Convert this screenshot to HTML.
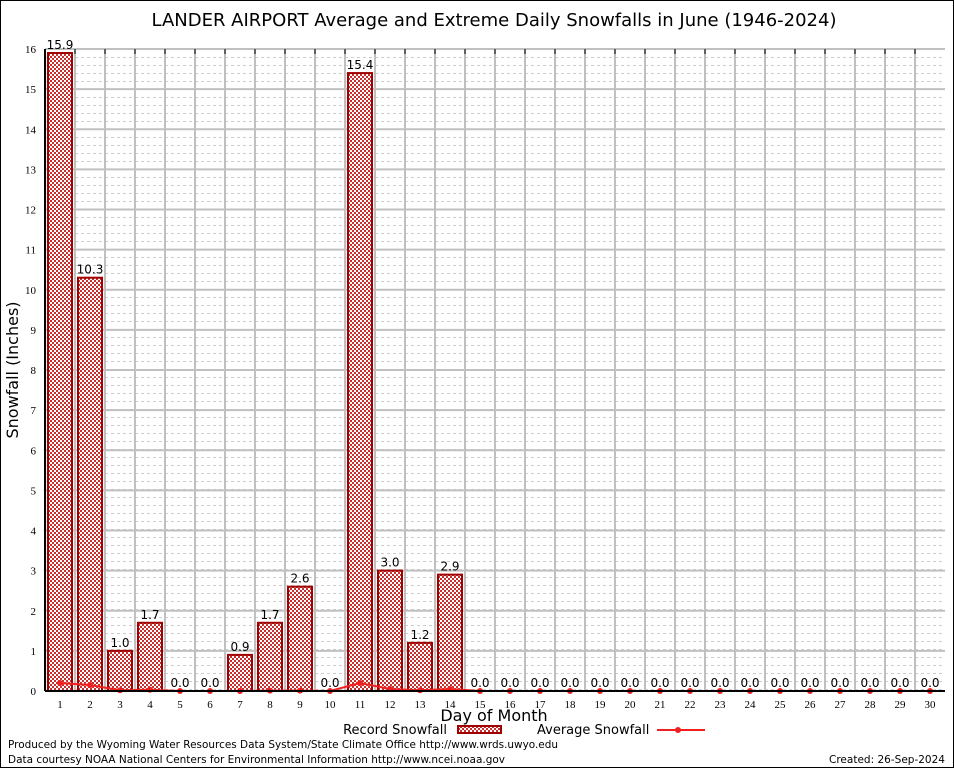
<!DOCTYPE html>
<html><head><meta charset="utf-8"><style>
body{margin:0;background:#fff;}
svg{display:block;font-family:"DejaVu Sans","Liberation Sans",sans-serif;}
</style></head><body>
<svg id="chart" width="954" height="768" viewBox="0 0 954 768">
<defs>
<pattern id="chk" width="4" height="4" patternUnits="userSpaceOnUse">
<rect width="4" height="4" fill="#c83030"/>
<rect x="0" y="0" width="2" height="2" fill="#fff"/>
<rect x="2" y="2" width="2" height="2" fill="#fff"/>
</pattern>
<pattern id="dots" width="6" height="8" patternUnits="userSpaceOnUse" x="45" y="49">
<rect x="0" y="0" width="3" height="1" fill="#ccc"/>
</pattern>
</defs>
<rect x="0.5" y="0.5" width="953" height="767" fill="#fff" stroke="#000"/>
<text x="494" y="26" font-size="18" text-anchor="middle">LANDER AIRPORT Average and Extreme Daily Snowfalls in June (1946-2024)</text>
<rect x="45" y="49" width="900" height="642" fill="url(#dots)"/>
<g id="grid"></g>
<g id="bars"></g>
<g id="avg"></g>
<g id="axes"></g>
<text transform="translate(18,370) rotate(-90)" font-size="16" text-anchor="middle">Snowfall (Inches)</text>
<text x="494" y="721" font-size="16" text-anchor="middle">Day of Month</text>
<g>
<text x="447" y="734" font-size="13" text-anchor="end">Record Snowfall</text>
<rect x="458" y="726" width="43" height="7" fill="url(#chk)" stroke="#a00000" stroke-width="2"/>
<text x="537" y="734" font-size="13">Average Snowfall</text>
<line x1="657" y1="730" x2="705" y2="730" stroke="#f02020" stroke-width="2"/>
<circle cx="678" cy="730" r="3" fill="#f02020"/>
</g>
<text x="8" y="748" font-size="11" textLength="550" lengthAdjust="spacingAndGlyphs">Produced by the Wyoming Water Resources Data System/State Climate Office http://www.wrds.uwyo.edu</text>
<text x="8" y="763" font-size="11" textLength="497" lengthAdjust="spacingAndGlyphs">Data courtesy NOAA National Centers for Environmental Information http://www.ncei.noaa.gov</text>
<text x="945" y="763" font-size="11" text-anchor="end" textLength="116" lengthAdjust="spacingAndGlyphs">Created: 26-Sep-2024</text>
</svg>
<script>
const days=[1,2,3,4,5,6,7,8,9,10,11,12,13,14,15,16,17,18,19,20,21,22,23,24,25,26,27,28,29,30];
const records=[15.9,10.3,1.0,1.7,0,0,0.9,1.7,2.6,0,15.4,3.0,1.2,2.9,0,0,0,0,0,0,0,0,0,0,0,0,0,0,0,0];
const averages=[0.2,0.15,0.02,0.03,0,0,0,0.01,0.01,0,0.2,0.05,0.02,0.05,0,0,0,0,0,0,0,0,0,0,0,0,0,0,0,0];
const yTicks=[0,1,2,3,4,5,6,7,8,9,10,11,12,13,14,15,16];
const X0=45,X1=945,Y0=691,Y1=49,YMAX=16;
const NS='http://www.w3.org/2000/svg';
const bw=(X1-X0)/days.length;
const xs=d=>X0+(d-0.5)*bw;
const ys=v=>Y0-(v/YMAX)*(Y0-Y1);
function mk(tag,attrs,parent){const e=document.createElementNS(NS,tag);for(const k in attrs)e.setAttribute(k,attrs[k]);parent.appendChild(e);return e;}
const grid=document.getElementById('grid'),bars=document.getElementById('bars'),avg=document.getElementById('avg'),axes=document.getElementById('axes');
yTicks.forEach(t=>{
  const l=mk('line',{x1:X0,x2:X1,y1:ys(t),y2:ys(t),stroke:'#c0c0c0','stroke-width':2},grid);
  
  
  const tx=mk('text',{x:X0-9,y:ys(t)+4,'font-size':11,'text-anchor':'end','font-family':'Liberation Serif,serif'},axes);
  tx.textContent=t;
  
  
});
days.forEach((d,i)=>{
  const gx=X0+i*bw;
  if(i>0){const l=mk('line',{x1:gx,x2:gx,y1:Y1,y2:Y0,stroke:'#c0c0c0','stroke-width':2},grid);
  
  }
  const tk=mk('line',{x1:gx,x2:gx,y1:Y1,y2:Y1+5,stroke:'#000','stroke-width':1},axes);
  
  
  const tx=mk('text',{x:xs(d),y:Y0+17,'font-size':11,'text-anchor':'middle','font-family':'Liberation Serif,serif'},axes);
  tx.textContent=d;
  
  
  const v=records[i];
  if(v>0){
    const b=mk('rect',{x:xs(d)-12,y:ys(v),width:24,height:Y0-ys(v),fill:'url(#chk)',stroke:'#a00000','stroke-width':2},bars);
    
    
  }
  const lb=mk('text',{x:xs(d),y:ys(v)-4,'font-size':12,'text-anchor':'middle'},bars);
  lb.textContent=v.toFixed(1);
  
  
});
mk('line',{x1:X0,x2:X0,y1:Y1,y2:Y0,stroke:'#000','stroke-width':2},axes);
mk('line',{x1:X0,x2:X1,y1:Y0,y2:Y0,stroke:'#000','stroke-width':2},axes);
const p=mk('polyline',{points:days.map((d,i)=>xs(d)+','+ys(averages[i])).join(' '),fill:'none',stroke:'#f02020','stroke-width':2},avg);


days.forEach((d,i)=>{
  const c=mk('circle',{cx:xs(d),cy:ys(averages[i]),r:3,fill:'#f02020'},avg);
  
  
});
</script>
</body></html>
